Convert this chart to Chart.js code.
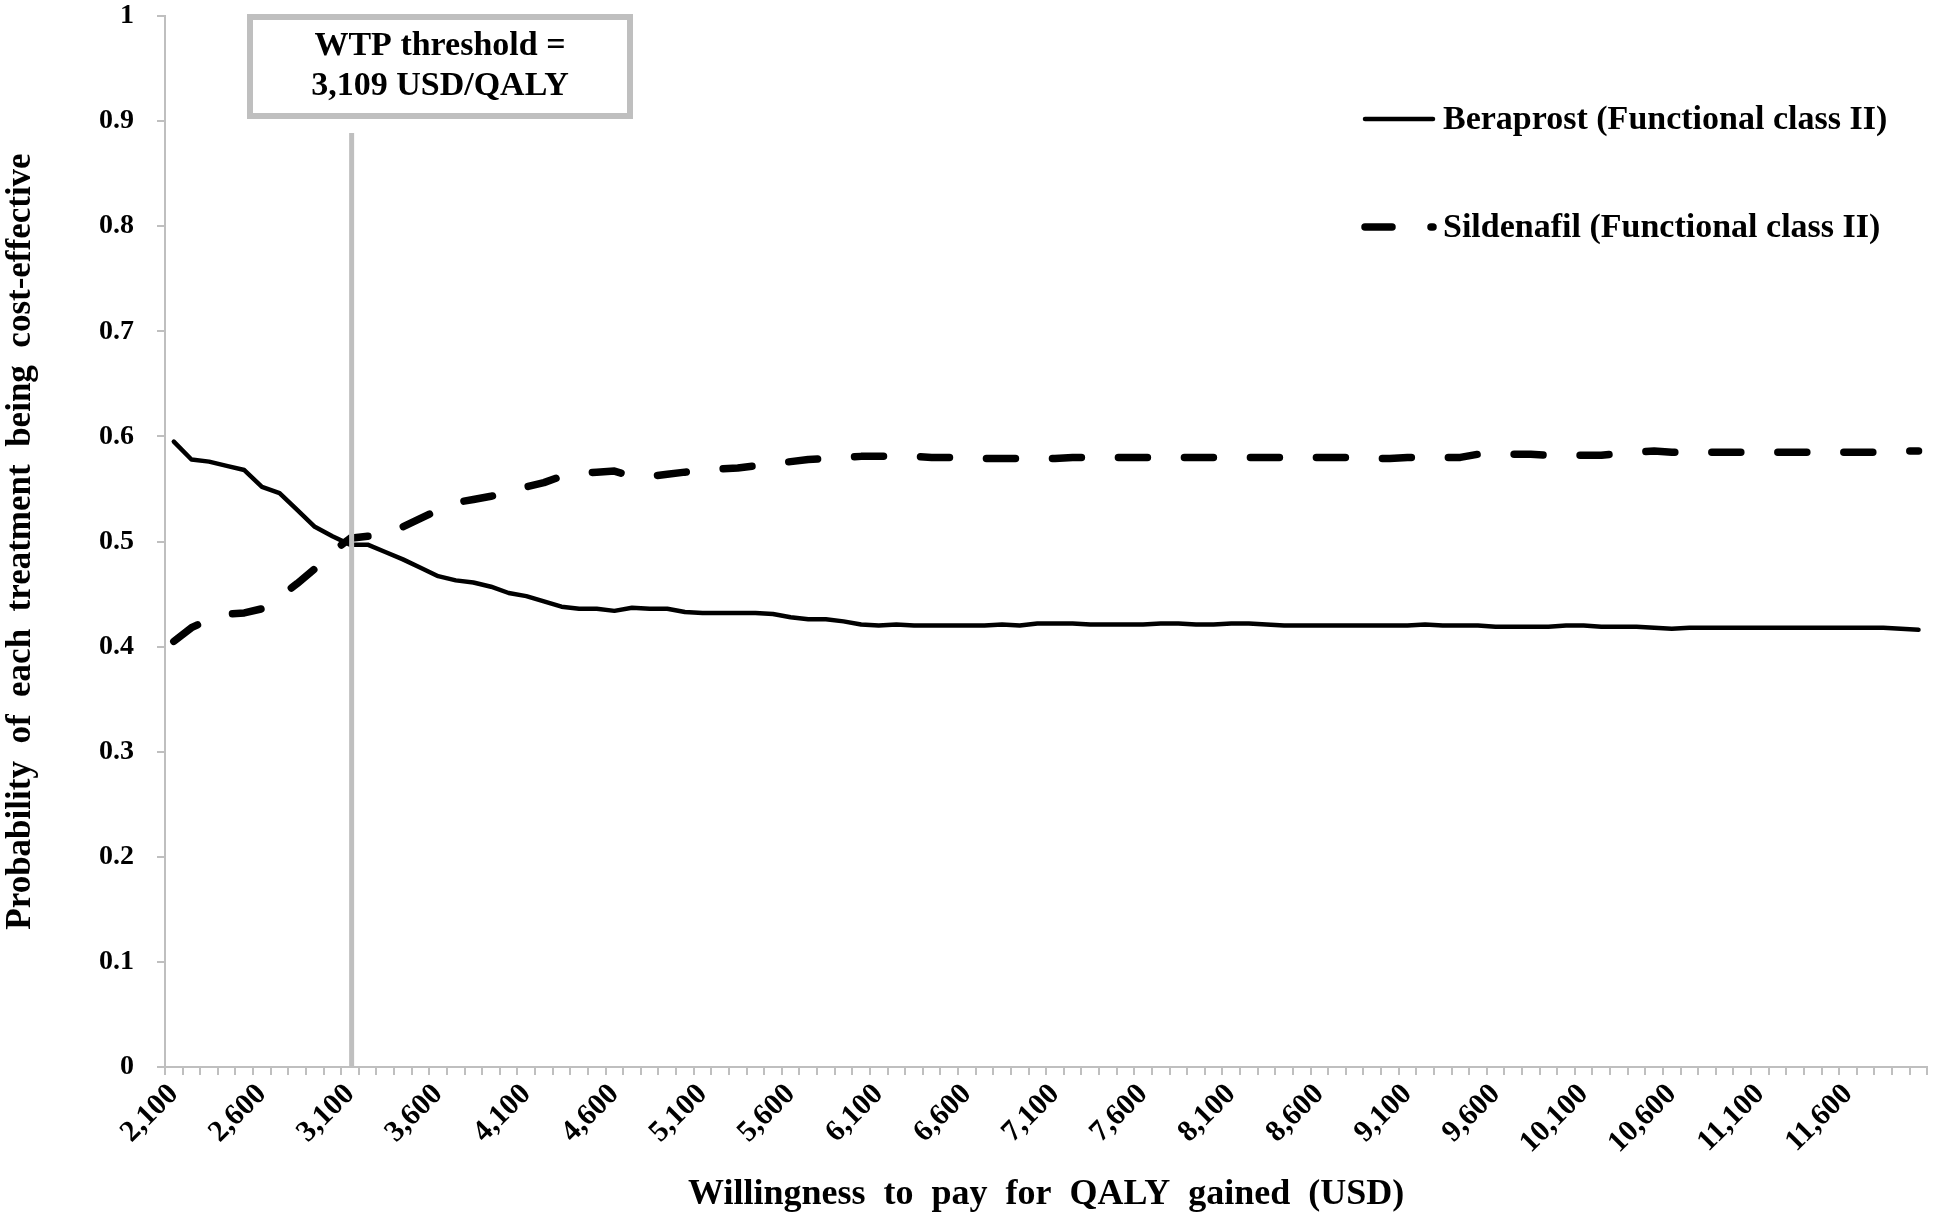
<!DOCTYPE html>
<html><head><meta charset="utf-8">
<script src="https://cdn.jsdelivr.net/npm/chart.js@4.4.1/dist/chart.umd.min.js"></script>
<style>html,body{margin:0;padding:0;background:#fff}#wrap{width:1946px;height:1214px;position:relative}</style>
</head><body><div id="wrap"><canvas id="c" width="1946" height="1214"></canvas></div>
<script>
const categories = [2100,2200,2300,2400,2500,2600,2700,2800,2900,3000,3100,3200,3300,3400,3500,3600,3700,3800,3900,4000,4100,4200,4300,4400,4500,4600,4700,4800,4900,5000,5100,5200,5300,5400,5500,5600,5700,5800,5900,6000,6100,6200,6300,6400,6500,6600,6700,6800,6900,7000,7100,7200,7300,7400,7500,7600,7700,7800,7900,8000,8100,8200,8300,8400,8500,8600,8700,8800,8900,9000,9100,9200,9300,9400,9500,9600,9700,9800,9900,10000,10100,10200,10300,10400,10500,10600,10700,10800,10900,11000,11100,11200,11300,11400,11500,11600,11700,11800,11900,12000];
const beraprost = [0.595,0.578,0.576,0.572,0.568,0.552,0.546,0.530,0.514,0.505,0.497,0.497,0.490,0.483,0.475,0.467,0.463,0.461,0.457,0.451,0.448,0.443,0.438,0.436,0.436,0.434,0.437,0.436,0.436,0.433,0.432,0.432,0.432,0.432,0.431,0.428,0.426,0.426,0.424,0.421,0.420,0.421,0.420,0.420,0.420,0.420,0.420,0.421,0.420,0.422,0.422,0.422,0.421,0.421,0.421,0.421,0.422,0.422,0.421,0.421,0.422,0.422,0.421,0.420,0.420,0.420,0.420,0.420,0.420,0.420,0.420,0.421,0.420,0.420,0.420,0.419,0.419,0.419,0.419,0.420,0.420,0.419,0.419,0.419,0.418,0.417,0.418,0.418,0.418,0.418,0.418,0.418,0.418,0.418,0.418,0.418,0.418,0.418,0.417,0.416];
const sildenafil = [0.405,0.418,0.426,0.431,0.432,0.436,0.447,0.460,0.474,0.490,0.503,0.505,0.507,0.514,0.522,0.530,0.537,0.540,0.543,0.547,0.552,0.556,0.562,0.565,0.566,0.567,0.562,0.562,0.564,0.566,0.567,0.569,0.570,0.572,0.574,0.576,0.578,0.579,0.580,0.581,0.581,0.581,0.581,0.580,0.580,0.580,0.579,0.579,0.579,0.579,0.579,0.580,0.580,0.580,0.580,0.580,0.580,0.580,0.580,0.580,0.580,0.580,0.580,0.580,0.580,0.580,0.580,0.580,0.579,0.579,0.580,0.580,0.580,0.580,0.583,0.583,0.583,0.583,0.582,0.582,0.582,0.582,0.584,0.585,0.586,0.585,0.585,0.585,0.585,0.585,0.585,0.585,0.585,0.585,0.585,0.585,0.585,0.585,0.586,0.586];
const yTicks = [0,0.1,0.2,0.3,0.4,0.5,0.6,0.7,0.8,0.9,1];
const seriesNames = ['Beraprost (Functional class II)','Sildenafil (Functional class II)'];
const xTitle = 'Willingness  to  pay  for  QALY  gained  (USD)';
const yTitle = 'Probability  of  each  treatment  being  cost-effective';
const wtpValue = 3109;
const wtpText = ['WTP threshold =','3,109 USD/QALY'];
const xLabelEvery = 5;

const FONT = '"Liberation Serif","Times New Roman",serif';
const GRAY = '#bfbfbf';

const overlay = {
  id: 'overlay',
  afterDatasetsDraw(chart) {
    const ctx = chart.ctx, xs = chart.scales.x, ys = chart.scales.y;
    const idx = (wtpValue - categories[0]) / (categories[1] - categories[0]);
    const x = xs.getPixelForValue(idx);
    ctx.save();
    ctx.strokeStyle = GRAY; ctx.lineWidth = 5; ctx.setLineDash([]);
    ctx.beginPath(); ctx.moveTo(x, 133); ctx.lineTo(x, ys.bottom); ctx.stroke();
    ctx.lineWidth = 6;
    ctx.fillStyle = '#fff';
    ctx.beginPath(); ctx.rect(250, 17, 380, 99); ctx.fill(); ctx.stroke();
    ctx.fillStyle = '#000';
    ctx.font = 'bold 34px ' + FONT;
    ctx.textAlign = 'center'; ctx.textBaseline = 'middle';
    ctx.fillText(wtpText[0], 440, 46);
    ctx.fillText(wtpText[1], 440, 86);
    const ds = chart.data.datasets;
    const rows = [119, 227];
    const legendDash = [null, [27, 39]];
    ctx.textAlign = 'left';
    ds.forEach((d, i) => {
      ctx.strokeStyle = d.borderColor; ctx.lineWidth = d.borderWidth;
      ctx.lineCap = 'round';
      ctx.setLineDash(legendDash[i] || []);
      ctx.beginPath(); ctx.moveTo(1365, rows[i]); ctx.lineTo(1433, rows[i]); ctx.stroke();
      ctx.setLineDash([]);
      ctx.fillText(seriesNames[i], 1443, rows[i] + 1);
    });
    ctx.restore();
  }
};

new Chart(document.getElementById('c'), {
  type: 'line',
  data: {
    labels: categories,
    datasets: [
      { label: seriesNames[0], data: beraprost, borderColor: '#000', borderWidth: 4.5, pointRadius: 0, tension: 0, borderCapStyle: 'round', borderJoinStyle: 'round', fill: false },
      { label: seriesNames[1], data: sildenafil, borderColor: '#000', borderWidth: 7.5, borderDash: [29, 37], pointRadius: 0, tension: 0, borderCapStyle: 'round', borderJoinStyle: 'round', fill: false }
    ]
  },
  options: {
    responsive: false, animation: false, devicePixelRatio: 1,
    layout: { padding: { top: 16, right: 4, left: 0, bottom: 0 } },
    plugins: { legend: { display: false }, tooltip: { enabled: false } },
    scales: {
      x: {
        type: 'category', offset: true,
        grid: { offset: true, drawOnChartArea: false, drawTicks: true, tickLength: 8, color: GRAY, lineWidth: 2 },
        border: { color: GRAY, width: 2 },
        ticks: {
          autoSkip: false, maxRotation: 45, minRotation: 45, color: '#000', padding: 2,
          font: { family: FONT, size: 30, weight: 'bold' },
          callback: function(v, i) { return i % xLabelEvery === 0 ? categories[i].toLocaleString('en-US') : ''; }
        },
        title: { display: true, text: xTitle, color: '#000', font: { family: FONT, size: 36, weight: 'bold' }, padding: { top: 0, bottom: -2 } },
        afterFit(s) { s.height = 147; }
      },
      y: {
        min: 0, max: 1,
        afterBuildTicks(s) { s.ticks = yTicks.map(v => ({ value: v })); },
        grid: { drawOnChartArea: false, drawTicks: true, tickLength: 8, color: GRAY, lineWidth: 2 },
        border: { color: GRAY, width: 2 },
        ticks: { color: '#000', padding: 23, font: { family: FONT, size: 28, weight: 'bold' },
          callback: v => String(Number(v.toFixed(1))) },
        title: { display: true, text: yTitle, color: '#000', font: { family: FONT, size: 35, weight: 'bold' }, padding: 0 },
        afterFit(s) { s.width = 165; s.paddingTop = 0; s.paddingBottom = 0; }
      }
    }
  },
  plugins: [overlay]
});
</script></body></html>
